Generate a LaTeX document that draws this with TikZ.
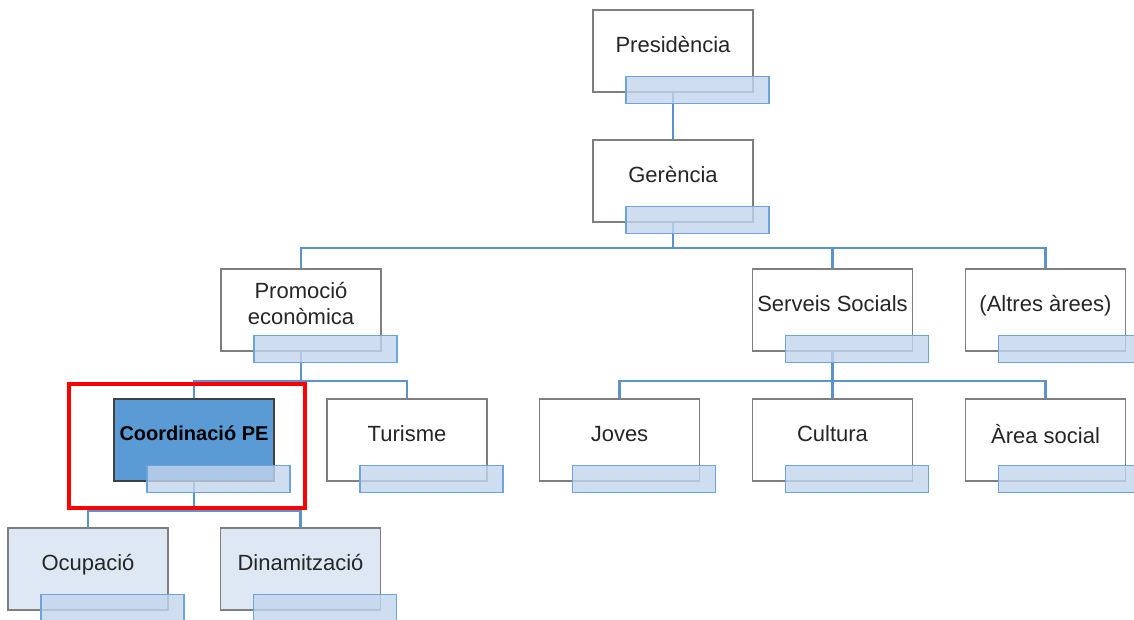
\documentclass[tikz,border=0pt]{standalone}
\usepackage{fontspec}
\setmainfont{Liberation Sans}
\usetikzlibrary{positioning,backgrounds}

\definecolor{boxline}{HTML}{7F7F7F}
\definecolor{conncol}{HTML}{5B93CF}
\definecolor{subfill}{HTML}{C3D5ED}
\definecolor{subline}{HTML}{6FA3DC}
\definecolor{activefill}{HTML}{5B9BD5}
\definecolor{lightfill}{HTML}{DDE8F4}

\tikzset{
    orgbox/.style={draw=boxline,line width=1.2pt,fill=white,minimum width=160pt,
        minimum height=82pt,inner sep=0pt,align=center,text depth=13pt,
        font=\fontsize{22}{26}\selectfont,text=black!85},
    subbox/.style={draw=subline,line width=1.2pt,fill=subfill,fill opacity=0.8,
        minimum width=143pt,minimum height=27pt,inner sep=0pt,anchor=north west},
    conn/.style={draw=conncol,line width=2.4pt}
}

\begin{document}
\begin{tikzpicture}[x=1pt,y=-1pt]
        \useasboundingbox (0,0) rectangle (1134,620);

        % main boxes
        \node[orgbox] (pres) at (673,51) {Presidència};
        \node[orgbox] (ger) at (673,181) {Gerència};

        \node[orgbox] (prom) at (301,310) {Promoció\\econòmica};
        \node[orgbox] (serv) at (832.5,310) {Serveis Socials};
        \node[orgbox] (alt) at (1045.5,310) {(Altres àrees)};

        \node[orgbox,fill=activefill,draw=black!75,font=\fontsize{20}{24}\selectfont\bfseries,text=black] (coord) at (194,440) {Coordinació PE};
        \node[orgbox] (tur) at (407,440) {Turisme};
        \node[orgbox] (joves) at (619.5,440) {Joves};
        \node[orgbox] (cult) at (832.5,440) {Cultura};
        \node[orgbox] (area) at (1045.5,440) {Àrea social};

        \node[orgbox,fill=lightfill] (ocup) at (88,569) {Ocupació};
        \node[orgbox,fill=lightfill] (dinam) at (300.5,569) {Dinamització};

        % label strips
        \foreach \b in {pres,ger,prom,serv,alt,coord,tur,joves,cult,area,ocup,dinam}
            \node[subbox] (\b-sub) at ([xshift=33pt,yshift=17pt]\b.south west) {};

        % bus points
        \coordinate (bus-ger) at (673,248);
        \coordinate (bus-prom) at (301,381);
        \coordinate (bus-serv) at (832.5,381);
        \coordinate (bus-coord) at (194,511);

        \begin{scope}[on background layer]
            \path[conn] (pres.center) -- (ger.center);
            \path[conn] (ger.center) -- (bus-ger);
            \path[conn] (prom.center) |- (bus-ger) -| (alt.center);
            \path[conn] (serv.center) -- (bus-ger -| serv.center);

            \path[conn] (prom.center) -- (bus-prom);
            \path[conn] (coord.center) |- (bus-prom) -| (tur.center);

            \path[conn] (serv.center) -- (bus-serv);
            \path[conn] (joves.center) |- (bus-serv) -| (area.center);
            \path[conn] (cult.center) -- (bus-serv);

            \path[conn] (coord.center) -- (bus-coord);
            \path[conn] (ocup.center) |- (bus-coord) -| (dinam.center);
        \end{scope}

        % highlight
        \draw[red,line width=3.5pt] (69,384) rectangle (305,508);
    \end{tikzpicture}
\end{document}
